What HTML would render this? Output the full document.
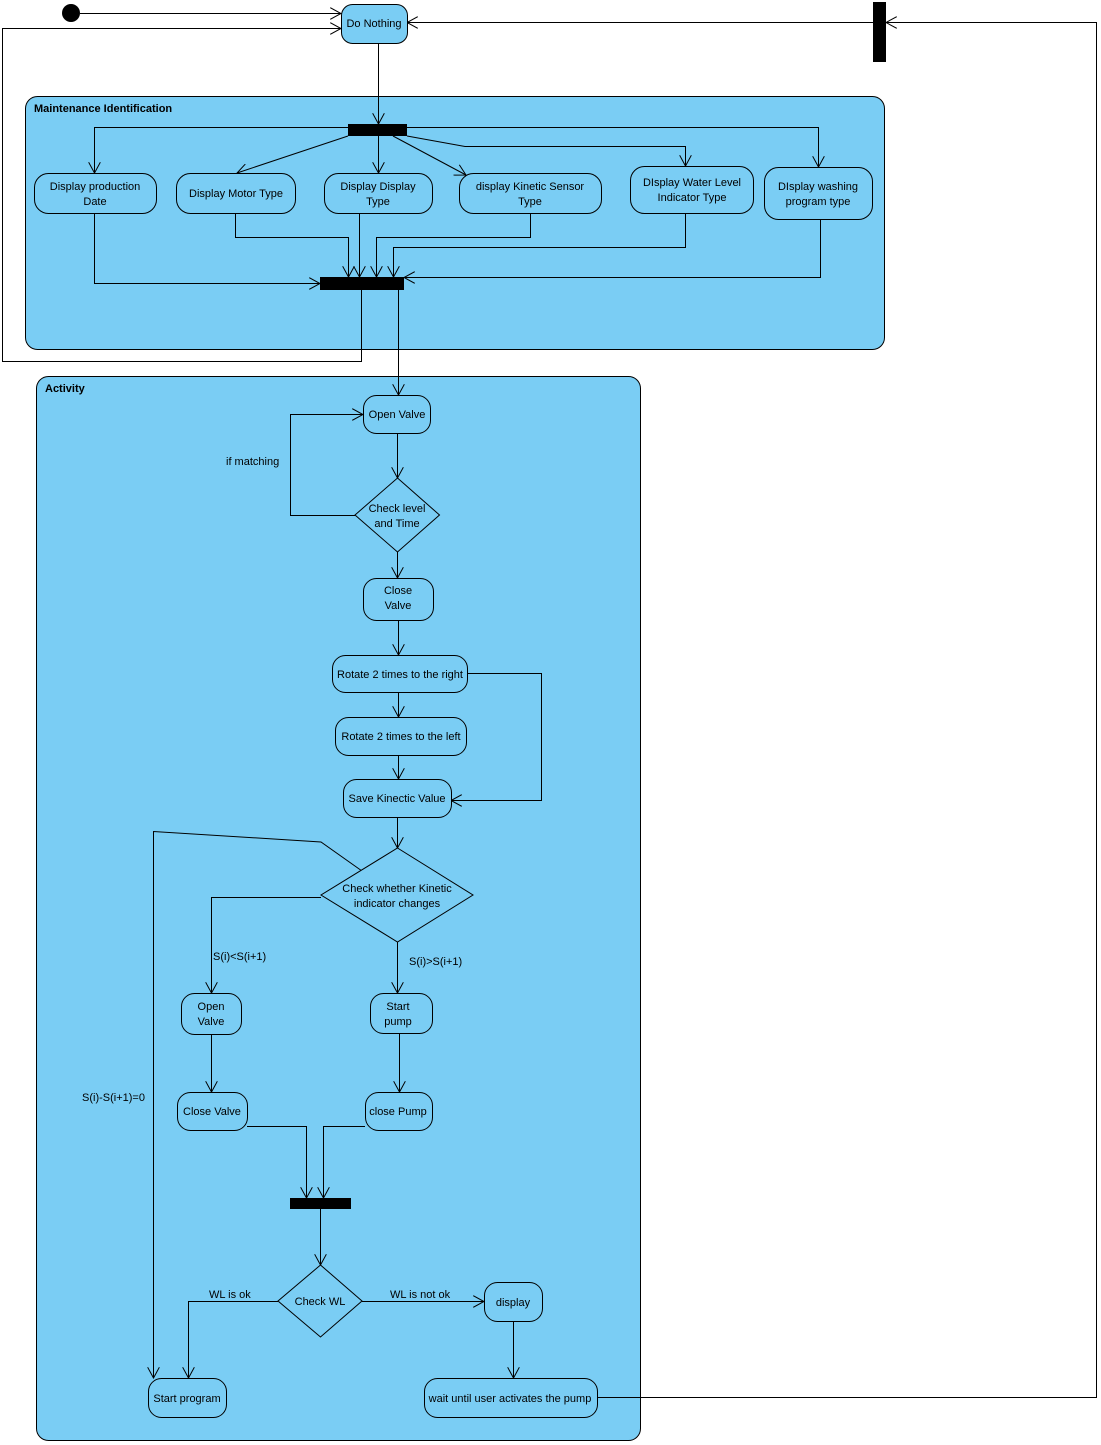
<!DOCTYPE html>
<html><head><meta charset="utf-8"><style>
html,body{margin:0;padding:0;background:#fff;}
svg{display:block;font-family:"Liberation Sans",sans-serif;font-size:11px;}
</style></head><body>
<svg width="1101" height="1445" viewBox="0 0 1101 1445" xmlns="http://www.w3.org/2000/svg">
<defs>
<marker id="a" viewBox="0 0 12 12" refX="11" refY="6" markerWidth="12" markerHeight="12" orient="auto" markerUnits="userSpaceOnUse">
<path d="M0,0 L11,6 L0,12" fill="none" stroke="#000" stroke-width="1"/>
</marker>
</defs>
<g fill="#7acdf4" stroke="#000" stroke-width="1">
<rect x="25.5" y="96.5" width="859" height="253" rx="12"/>
<rect x="36.5" y="376.5" width="604" height="1064" rx="12"/>
</g>
<text x="34" y="112" font-weight="bold" font-size="11">Maintenance Identification</text>
<text x="45" y="392" font-weight="bold" font-size="11">Activity</text>

<g fill="none" stroke="#000" stroke-width="1">
<!-- top area -->
<line x1="80" y1="13.5" x2="341" y2="13.5" marker-end="url(#a)"/>
<polyline points="361.5,290 361.5,361.5 2.5,361.5 2.5,28.5 341,28.5" marker-end="url(#a)"/>
<line x1="873" y1="22.5" x2="407" y2="22.5" marker-end="url(#a)"/>
<polyline points="597,1397.5 1096.5,1397.5 1096.5,22.5 886,22.5" marker-end="url(#a)"/>
<line x1="378.5" y1="43" x2="378.5" y2="124" marker-end="url(#a)"/>
<!-- fork -->
<polyline points="348,127.5 94.5,127.5 94.5,173" marker-end="url(#a)"/>
<polyline points="407,127.5 818.5,127.5 818.5,167" marker-end="url(#a)"/>
<line x1="348" y1="136" x2="237" y2="173" marker-end="url(#a)"/>
<line x1="378.5" y1="136" x2="378.5" y2="173" marker-end="url(#a)"/>
<line x1="393" y1="136" x2="466" y2="175" marker-end="url(#a)"/>
<polyline points="407,136 465,146.5 685.5,146.5 685.5,166" marker-end="url(#a)"/>
<!-- join -->
<polyline points="94.5,213 94.5,283.5 320,283.5" marker-end="url(#a)"/>
<polyline points="235.5,213 235.5,237.5 348.5,237.5 348.5,277" marker-end="url(#a)"/>
<line x1="359.5" y1="213" x2="359.5" y2="277" marker-end="url(#a)"/>
<polyline points="530.5,213 530.5,237.5 376.5,237.5 376.5,277" marker-end="url(#a)"/>
<polyline points="685.5,213 685.5,247.5 393.5,247.5 393.5,277" marker-end="url(#a)"/>
<polyline points="820.5,219 820.5,277.5 404,277.5" marker-end="url(#a)"/>
<line x1="398.5" y1="290" x2="398.5" y2="395" marker-end="url(#a)"/>
<!-- activity -->
<polyline points="355,515.5 290.5,515.5 290.5,414.5 363,414.5" marker-end="url(#a)"/>
<line x1="397.5" y1="433" x2="397.5" y2="478" marker-end="url(#a)"/>
<line x1="397.5" y1="552" x2="397.5" y2="578" marker-end="url(#a)"/>
<line x1="398.5" y1="620" x2="398.5" y2="655" marker-end="url(#a)"/>
<line x1="398.5" y1="692" x2="398.5" y2="717" marker-end="url(#a)"/>
<line x1="398.5" y1="755" x2="398.5" y2="779" marker-end="url(#a)"/>
<polyline points="467,673.5 541.5,673.5 541.5,800.5 451,800.5" marker-end="url(#a)"/>
<line x1="397.5" y1="817" x2="397.5" y2="848" marker-end="url(#a)"/>
<polyline points="321,897.5 211.5,897.5 211.5,993" marker-end="url(#a)"/>
<line x1="397.5" y1="942" x2="397.5" y2="993" marker-end="url(#a)"/>
<polyline points="362,871 321,842 153.5,831.5 153.5,1378" marker-end="url(#a)"/>
<line x1="211.5" y1="1034" x2="211.5" y2="1092" marker-end="url(#a)"/>
<line x1="399.5" y1="1033" x2="399.5" y2="1092" marker-end="url(#a)"/>
<polyline points="247,1126.5 306.5,1126.5 306.5,1198" marker-end="url(#a)"/>
<polyline points="365,1126.5 323.5,1126.5 323.5,1198" marker-end="url(#a)"/>
<line x1="320.5" y1="1209" x2="320.5" y2="1265" marker-end="url(#a)"/>
<polyline points="278,1301.5 188.5,1301.5 188.5,1378" marker-end="url(#a)"/>
<line x1="362" y1="1301.5" x2="484" y2="1301.5" marker-end="url(#a)"/>
<line x1="513.5" y1="1321" x2="513.5" y2="1378" marker-end="url(#a)"/>
</g>

<circle cx="71" cy="13" r="9" fill="#000"/>
<g fill="#000">
<rect x="348" y="124" width="59" height="12"/>
<rect x="320" y="277" width="84" height="13"/>
<rect x="873" y="2" width="13" height="60"/>
<rect x="290" y="1198" width="61" height="11"/>
</g>

<g fill="#7acdf4" stroke="#000" stroke-width="1">
<rect x="341.5" y="4.5" width="66" height="39" rx="11"/>
<rect x="34.5" y="173.5" width="122" height="40" rx="14"/>
<rect x="176.5" y="173.5" width="119" height="40" rx="14"/>
<rect x="324.5" y="173.5" width="108" height="40" rx="14"/>
<rect x="459.5" y="173.5" width="142" height="40" rx="14"/>
<rect x="630.5" y="166.5" width="123" height="47" rx="14"/>
<rect x="764.5" y="167.5" width="108" height="52" rx="14"/>
<rect x="363.5" y="395.5" width="67" height="38" rx="13"/>
<polygon points="397.5,478 439.5,515 397.5,552 355,515"/>
<rect x="363.5" y="578.5" width="70" height="42" rx="13"/>
<rect x="332.5" y="655.5" width="135" height="37" rx="13"/>
<rect x="335.5" y="717.5" width="131" height="38" rx="13"/>
<rect x="343.5" y="779.5" width="108" height="38" rx="13"/>
<polygon points="397.5,848 473,895 397.5,942 321,895"/>
<rect x="181.5" y="993.5" width="60" height="41" rx="13"/>
<rect x="370.5" y="993.5" width="62" height="40" rx="13"/>
<rect x="177.5" y="1092.5" width="70" height="38" rx="13"/>
<rect x="365.5" y="1092.5" width="67" height="38" rx="13"/>
<polygon points="320.5,1265 362,1301 320.5,1337 278,1301"/>
<rect x="484.5" y="1282.5" width="58" height="39" rx="13"/>
<rect x="148.5" y="1378.5" width="78" height="39" rx="13"/>
<rect x="424.5" y="1378.5" width="173" height="39" rx="13"/>
</g>

<g text-anchor="middle" fill="#000">
<text x="374" y="27">Do Nothing</text>
<text x="95" y="190">Display production</text><text x="95" y="205">Date</text>
<text x="236" y="197">Display Motor Type</text>
<text x="378" y="190">Display Display</text><text x="378" y="205">Type</text>
<text x="530" y="190">display Kinetic Sensor</text><text x="530" y="205">Type</text>
<text x="692" y="186">DIsplay Water Level</text><text x="692" y="201">Indicator Type</text>
<text x="818" y="190">DIsplay washing</text><text x="818" y="205">program type</text>
<text x="397" y="418">Open Valve</text>
<text x="397" y="512">Check level</text><text x="397" y="527">and Time</text>
<text x="398" y="594">Close</text><text x="398" y="609">Valve</text>
<text x="400" y="678">Rotate 2 times to the right</text>
<text x="401" y="740">Rotate 2 times to the left</text>
<text x="397" y="802">Save Kinectic Value</text>
<text x="397" y="892">Check whether Kinetic</text><text x="397" y="907">indicator changes</text>
<text x="211" y="1010">Open</text><text x="211" y="1025">Valve</text>
<text x="398" y="1010">Start</text><text x="398" y="1025">pump</text>
<text x="212" y="1115">Close Valve</text>
<text x="398" y="1115">close Pump</text>
<text x="320" y="1305">Check WL</text>
<text x="513" y="1306">display</text>
<text x="187" y="1402">Start program</text>
<text x="510" y="1402">wait until user activates the pump</text>
</g>
<g fill="#000">
<text x="226" y="465">if matching</text>
<text x="213" y="960">S(i)&lt;S(i+1)</text>
<text x="409" y="965">S(i)&gt;S(i+1)</text>
<text x="82" y="1101">S(i)-S(i+1)=0</text>
<text x="209" y="1298">WL is ok</text>
<text x="390" y="1298">WL is not ok</text>
</g>
</svg>
</body></html>
